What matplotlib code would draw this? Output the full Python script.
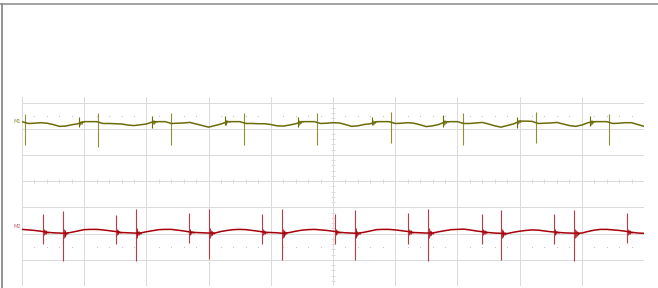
import numpy as np
import matplotlib
matplotlib.use("Agg")
import matplotlib.pyplot as plt
from matplotlib.lines import Line2D

# ---------------------------------------------------------------
# data (units: screen divisions, 10 x 8 div grid, centre = 0,0)
# ---------------------------------------------------------------
# trace level sampled every 0.1 div from -5.0 to 5.0
t = np.round(np.arange(-50, 51) / 10, 1)

m1_level = [
    2.27, 2.20, 2.21, 2.23, 2.21, 2.16, 2.09, 2.10, 2.15, 2.19,
    2.27, 2.27, 2.27, 2.20, 2.20, 2.19, 2.18, 2.14, 2.12, 2.15,
    2.18, 2.26, 2.27, 2.27, 2.20, 2.21, 2.22, 2.24, 2.18, 2.12,
    2.06, 2.12, 2.18, 2.27, 2.27, 2.27, 2.20, 2.20, 2.19, 2.19,
    2.16, 2.11, 2.10, 2.14, 2.19, 2.27, 2.27, 2.27, 2.20, 2.21,
    2.23, 2.22, 2.16, 2.09, 2.11, 2.16, 2.19, 2.27, 2.27, 2.27,
    2.20, 2.21, 2.23, 2.21, 2.15, 2.08, 2.11, 2.16, 2.26, 2.27,
    2.27, 2.20, 2.20, 2.22, 2.24, 2.18, 2.11, 2.06, 2.12, 2.18,
    2.29, 2.29, 2.28, 2.20, 2.21, 2.22, 2.24, 2.18, 2.12, 2.09,
    2.14, 2.23, 2.27, 2.27, 2.27, 2.20, 2.21, 2.23, 2.23, 2.16,
    2.09,
]
m2_level = [
    -1.84, -1.86, -1.88, -1.91, -1.95, -1.97, -1.98, -1.99, -1.95, -1.90,
    -1.85, -1.84, -1.84, -1.86, -1.89, -1.92, -1.96, -1.97, -1.98, -1.98,
    -1.93, -1.89, -1.85, -1.84, -1.84, -1.87, -1.90, -1.94, -1.96, -1.97,
    -1.98, -1.98, -1.92, -1.88, -1.85, -1.84, -1.85, -1.88, -1.91, -1.95,
    -1.96, -1.97, -1.99, -1.96, -1.91, -1.87, -1.85, -1.84, -1.86, -1.88,
    -1.91, -1.95, -1.97, -1.98, -1.99, -1.95, -1.90, -1.85, -1.84, -1.84,
    -1.86, -1.89, -1.92, -1.96, -1.97, -1.98, -1.98, -1.93, -1.89, -1.85,
    -1.84, -1.83, -1.86, -1.90, -1.93, -1.96, -1.98, -1.99, -2.00, -1.95,
    -1.91, -1.88, -1.86, -1.87, -1.90, -1.93, -1.95, -1.97, -1.98, -1.99,
    -1.98, -1.92, -1.87, -1.84, -1.84, -1.86, -1.88, -1.91, -1.95, -1.98,
    -1.99,
]

# M1 switching spikes (sharp, mostly downward) and ringing bursts
m1_spike_t = [-4.95, -3.78, -2.60, -1.43, -0.26, 0.93, 2.09, 3.26, 4.44]
m1_spike_hi = [2.58, 2.61, 2.61, 2.60, 2.60, 2.62, 2.59, 2.63, 2.55]
m1_spike_lo = [1.38, 1.32, 1.38, 1.38, 1.38, 1.46, 1.38, 1.45, 1.36]
m1_burst_t = [-4.08, -2.91, -1.74, -0.56, 0.63, 1.77, 2.96, 4.13]
m1_burst_hi = [2.45, 2.48, 2.49, 2.44, 2.46, 2.53, 2.44, 2.49]
m1_burst_lo = [2.05, 2.04, 2.13, 2.08, 2.14, 2.08, 2.02, 2.11]

# M2 spike pairs: a smaller one followed by a taller one
m2_small_t = [-4.66, -3.49, -2.32, -1.14, 0.03, 1.21, 2.40, 3.55, 4.73]
m2_small_hi = [-1.25, -1.29, -1.21, -1.24, -1.26, -1.23, -1.25, -1.25, -1.23]
m2_small_lo = [-2.41, -2.40, -2.36, -2.39, -2.41, -2.38, -2.40, -2.39, -2.37]
m2_tall_t = [-4.34, -3.17, -1.99, -0.82, 0.35, 1.53, 2.70, 3.88]
m2_tall_hi = [-1.14, -1.06, -1.05, -1.08, -1.10, -1.07, -1.10, -1.09]
m2_tall_lo = [-3.03, -3.06, -2.97, -3.02, -3.01, -3.04, -3.01, -3.03]

# ---------------------------------------------------------------
# style
# ---------------------------------------------------------------
W, H = 658, 288
GRID = "#dadada"
FRAME = "#8a8a8a"
M1_COLOR = "#6c6c08"
M1_SPIKE = "#8f8f38"
M2_COLOR = "#a5000c"
M2_SPIKE = "#bb3a46"
RING_STEP = 0.013
RING_DECAY = [1.0, 0.7, 0.5, 0.34, 0.22, 0.12]


def ringing(times, amp, level_v):
    """vertical strokes for the decaying ringing right after each spike"""
    xs, lo, hi = [], [], []
    for ts in times:
        for k, f in enumerate(RING_DECAY):
            x = ts + (k + 1) * RING_STEP
            c = np.interp(x, t, level_v)
            xs.append(x)
            lo.append(c - amp * f)
            hi.append(c + amp * f)
    return xs, lo, hi


fig = plt.figure(figsize=(W / 100, H / 100), dpi=100)
fig.patch.set_facecolor("white")

# outer window frame
fig.add_artist(Line2D([1.5 / W, 1.5 / W], [0, (H - 4) / H], color=FRAME, lw=1.3))
fig.add_artist(Line2D([0, 1], [(H - 4) / H, (H - 4) / H], color=FRAME, lw=1.1))

ax = fig.add_axes([22 / W, 2 / H, 622 / W, 189 / H])
ax.set_xlim(-5, 5)
ax.set_ylim(-4, 3.21)
ax.axis("off")

# graticule
for x in range(-5, 6):
    ax.axvline(x, color=GRID, lw=0.7, zorder=0)
for y in range(-4, 4):
    ax.axhline(y, color=GRID, lw=0.7, zorder=0)
minor = np.arange(-25, 26) / 5
ax.vlines(minor, -0.07, 0.07, color=GRID, lw=0.7, zorder=0)
ax.hlines(np.arange(-20, 16) / 5, -0.03, 0.03, color=GRID, lw=0.7, zorder=0)
dots = minor[np.abs(np.round(minor) - minor) > 0.01]
for yy in (2.5, -2.5):
    ax.plot(dots, np.full(len(dots), yy), ls="none", marker="s", ms=0.8,
            mec="none", mfc="#c8c8c8", zorder=0)

# M1 trace
ax.plot(t, m1_level, color=M1_COLOR, lw=1.1, zorder=3)
ax.vlines(m1_spike_t, m1_spike_lo, m1_spike_hi, color=M1_SPIKE, lw=0.8, zorder=2)
ax.vlines(m1_burst_t, m1_burst_lo, m1_burst_hi, color=M1_COLOR, lw=0.8, zorder=3)
rx, rlo, rhi = ringing(m1_burst_t, 0.09, m1_level)
ax.vlines(rx, rlo, rhi, color=M1_COLOR, lw=0.55, zorder=3)

# M2 trace
ax.plot(t, m2_level, color=M2_COLOR, lw=1.1, zorder=3)
ax.vlines(m2_small_t, m2_small_lo, m2_small_hi, color=M2_SPIKE, lw=0.8, zorder=2)
ax.vlines(m2_tall_t, m2_tall_lo, m2_tall_hi, color=M2_SPIKE, lw=0.8, zorder=2)
rx, rlo, rhi = ringing(m2_small_t, 0.12, m2_level)
ax.vlines(rx, rlo, rhi, color=M2_COLOR, lw=0.55, zorder=3)
rx, rlo, rhi = ringing(m2_tall_t, 0.18, m2_level)
ax.vlines(rx, rlo, rhi, color=M2_COLOR, lw=0.55, zorder=3)

# channel markers
ax.text(-5.02, 2.28, "M1", color="#8c8c40", fontsize=3.6, ha="right",
        va="center", clip_on=False)
ax.text(-5.02, -1.74, "M2", color="#c06070", fontsize=3.6, ha="right",
        va="center", clip_on=False)

fig.savefig("out.png", dpi=100)
